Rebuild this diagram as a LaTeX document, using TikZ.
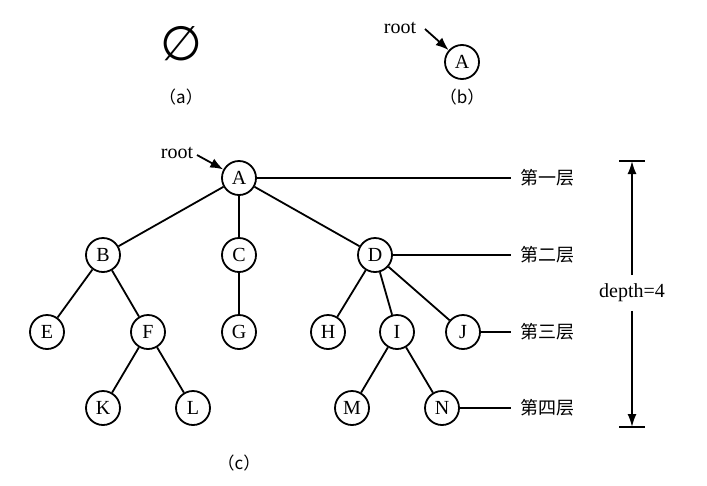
\documentclass[tikz,border=0pt]{standalone}
\usepackage{fontspec}
\setmainfont{Liberation Serif}
\newfontfamily\cjk{Noto Sans CJK SC}
\newfontfamily\symfont{DejaVu Sans}
\usepackage{tikz}
\usetikzlibrary{arrows.meta,positioning,shapes,calc}

\begin{document}
\begin{tikzpicture}[x=1pt, y=-1pt, line width=1.8pt,
        vert/.style={circle, draw, minimum size=34pt, inner sep=0pt, font=\fontsize{20}{20}\selectfont},
        lvl/.style={anchor=west, inner xsep=9pt, font=\cjk\fontsize{18}{18}\selectfont},
        subcap/.style={font=\cjk\fontsize{17}{17}\selectfont},
        lbl/.style={font=\fontsize{20}{20}\selectfont},
        pointer/.style={-{Latex[length=13pt,width=10pt]}}]
        \useasboundingbox (0,0) rectangle (707,485);
        % (a) empty tree
        \node[font=\symfont\fontsize{48}{48}\selectfont] (empty) at (181,44) {∅};
        \node[subcap] (capa) at (181,97) {（a）};
        % (b) single node
        \node[vert] (Ab) at (462,62) {A};
        \node[lbl] (rootb) at (400,28) {root};
        \coordinate (rb) at (425,29);
        \draw[pointer] (rb) -- (Ab);
        \node[subcap] (capb) at (462,97) {（b）};
        % (c) general tree
        \node[vert] (A) at (239,178) {A};
        \node[vert] (B) at (103,255) {B};
        \node[vert] (C) at (239,255) {C};
        \node[vert] (D) at (375,255) {D};
        \node[vert] (E) at (47,332) {E};
        \node[vert] (F) at (148,332) {F};
        \node[vert] (G) at (239,332) {G};
        \node[vert] (H) at (328,332) {H};
        \node[vert] (I) at (397,332) {I};
        \node[vert] (J) at (463,332) {J};
        \node[vert] (K) at (103,408) {K};
        \node[vert] (L) at (193,408) {L};
        \node[vert] (M) at (352,408) {M};
        \node[vert] (N) at (442,408) {N};
        \draw (A) -- (B);
        \draw (A) -- (C);
        \draw (A) -- (D);
        \draw (B) -- (E);
        \draw (B) -- (F);
        \draw (C) -- (G);
        \draw (D) -- (H);
        \draw (D) -- (I);
        \draw (D) -- (J);
        \draw (F) -- (K);
        \draw (F) -- (L);
        \draw (I) -- (M);
        \draw (I) -- (N);
        \node[lbl] (rootc) at (177,153) {root};
        \coordinate (rc) at (197,155);
        \draw[pointer] (rc) -- (A);
        % levels
        \node[lvl] (lv1) at (511,178) {第一层};
        \node[lvl] (lv2) at (511,255) {第二层};
        \node[lvl] (lv3) at (511,332) {第三层};
        \node[lvl] (lv4) at (511,408) {第四层};
        \draw (A) -- (lv1);
        \draw (D) -- (lv2);
        \draw (J) -- (lv3);
        \draw (N) -- (lv4);
        % depth
        \coordinate (dtop) at (632,161);
        \coordinate (dbot) at (632,427);
        \draw ($(dtop)+(-13,0)$) -- ($(dtop)+(13,0)$);
        \draw ($(dbot)+(-13,0)$) -- ($(dbot)+(13,0)$);
        \node[lbl, inner ysep=8pt] (depth) at (632,293) {depth=4};
        \draw[-{Latex[length=13pt,width=9pt]}] (depth) -- (dtop);
        \draw[-{Latex[length=13pt,width=9pt]}] (depth) -- (dbot);
        \node[subcap] (capc) at (239,463) {（c）};
\end{tikzpicture}
\end{document}
